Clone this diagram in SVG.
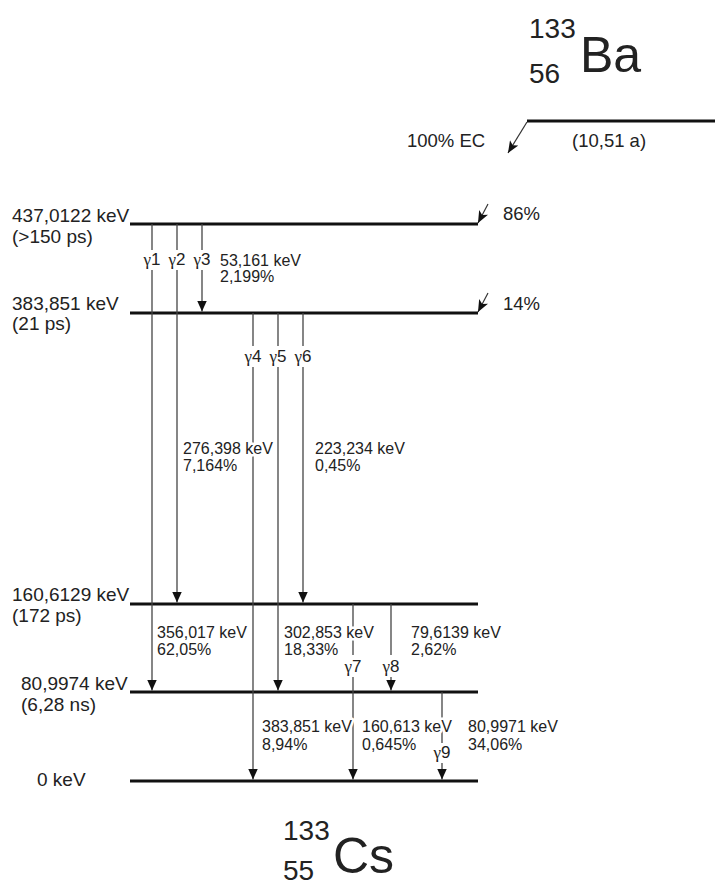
<svg xmlns="http://www.w3.org/2000/svg" width="715" height="887" viewBox="0 0 715 887">
<style>
.lvl{stroke:#111;stroke-width:3;fill:none}
.g{stroke:#444;stroke-width:1.3;fill:none}
.ga{stroke:#444;stroke-width:1.3;fill:none;marker-end:url(#ah)}
.fa{stroke:#333;stroke-width:1.2;fill:none;marker-end:url(#ah2)}
.t{font-family:"Liberation Sans",Arial,sans-serif;fill:#222}
.lt{font-size:19px}
.pt{font-size:18.5px}
.st{font-size:16px}
.gl{font-size:17px;text-anchor:middle}
.gr{font-family:"Liberation Serif","DejaVu Serif",serif}
.halo{stroke:#fff;stroke-width:5px;paint-order:stroke;stroke-linejoin:round}
.big{font-size:50px}
.iso{font-size:28px}
</style>
<defs>
<marker id="ah" viewBox="0 0 10 9" refX="10" refY="4.5" markerWidth="11" markerHeight="9.5" markerUnits="userSpaceOnUse" orient="auto">
<path d="M0,0 L10,4.5 L0,9 z" fill="#111"/>
</marker>
<marker id="ah2" viewBox="0 0 12 10" refX="12" refY="5" markerWidth="12" markerHeight="10" markerUnits="userSpaceOnUse" orient="auto">
<path d="M0,0 L12,5 L0,10 L3,5 z" fill="#111"/>
</marker>
</defs>

<g id="ba-title">
<text class="t iso" x="529" y="38">133</text>
<text class="t iso" x="529" y="83">56</text>
<text class="t big" x="580" y="72">Ba</text>
</g>
<g id="cs-title">
<text class="t iso" x="283" y="840">133</text>
<text class="t iso" x="283" y="880">55</text>
<text class="t big" x="333" y="873">Cs</text>
</g>

<g id="level-ba">
<line class="lvl" x1="527" y1="121" x2="715" y2="121"/>
<text class="t pt" x="572" y="147">(10,51 a)</text>
<text class="t pt" x="407" y="147">100% EC</text>
</g>
<g id="level-437">
<line class="lvl" x1="130" y1="224" x2="478" y2="224"/>
<text class="t lt" x="12" y="222">437,0122 keV</text>
<text class="t lt" x="12" y="243">(&gt;150 ps)</text>
<text class="t pt" x="503" y="220">86%</text>
</g>
<g id="level-383">
<line class="lvl" x1="130" y1="313" x2="478" y2="313"/>
<text class="t lt" x="12" y="310">383,851 keV</text>
<text class="t lt" x="12" y="330">(21 ps)</text>
<text class="t pt" x="503" y="310">14%</text>
</g>
<g id="level-160">
<line class="lvl" x1="130" y1="604" x2="478" y2="604"/>
<text class="t lt" x="12" y="601">160,6129 keV</text>
<text class="t lt" x="12" y="622">(172 ps)</text>
</g>
<g id="level-81">
<line class="lvl" x1="130" y1="692" x2="478" y2="692"/>
<text class="t lt" x="21" y="690">80,9974 keV</text>
<text class="t lt" x="21" y="711">(6,28 ns)</text>
</g>
<g id="level-0">
<line class="lvl" x1="130" y1="781" x2="478" y2="781"/>
<text class="t lt" x="37" y="786">0 keV</text>
</g>

<g id="connectors">
<line class="fa" x1="527" y1="122" x2="508" y2="153"/>
<line class="fa" x1="488" y1="204" x2="478" y2="223"/>
<line class="fa" x1="488" y1="293" x2="478" y2="312"/>

<line class="g" x1="152" y1="224" x2="152" y2="250"/>
<line class="ga" x1="152" y1="270" x2="152" y2="690.5"/>
<line class="g" x1="177" y1="224" x2="177" y2="250"/>
<line class="ga" x1="177" y1="270" x2="177" y2="602.5"/>
<line class="g" x1="202" y1="224" x2="202" y2="250"/>
<line class="ga" x1="202" y1="270" x2="202" y2="311.5"/>

<line class="g" x1="253" y1="313" x2="253" y2="346"/>
<line class="ga" x1="253" y1="367" x2="253" y2="779.5"/>
<line class="g" x1="278" y1="313" x2="278" y2="346"/>
<line class="ga" x1="278" y1="367" x2="278" y2="690.5"/>
<line class="g" x1="303" y1="313" x2="303" y2="346"/>
<line class="ga" x1="303" y1="367" x2="303" y2="602.5"/>

<line class="g" x1="353" y1="604" x2="353" y2="655"/>
<line class="ga" x1="353" y1="677" x2="353" y2="779.5"/>
<line class="g" x1="391" y1="604" x2="391" y2="655"/>
<line class="ga" x1="391" y1="677" x2="391" y2="690.5"/>
<line class="g" x1="442" y1="692" x2="442" y2="743"/>
<line class="ga" x1="442" y1="763" x2="442" y2="779.5"/>
</g>

<g id="gamma-labels">
<text class="t gl" x="152" y="265"><tspan class="gr">γ</tspan>1</text>
<text class="t gl" x="177" y="265"><tspan class="gr">γ</tspan>2</text>
<text class="t gl" x="202" y="265"><tspan class="gr">γ</tspan>3</text>
<text class="t gl" x="253" y="362"><tspan class="gr">γ</tspan>4</text>
<text class="t gl" x="278" y="362"><tspan class="gr">γ</tspan>5</text>
<text class="t gl" x="303" y="362"><tspan class="gr">γ</tspan>6</text>
<text class="t gl" x="353" y="672"><tspan class="gr">γ</tspan>7</text>
<text class="t gl" x="391" y="672"><tspan class="gr">γ</tspan>8</text>
<text class="t gl" x="442" y="758"><tspan class="gr">γ</tspan>9</text>
</g>

<g id="transition-labels">
<text class="t st halo" x="220" y="266">53,161 keV</text>
<text class="t st halo" x="220" y="282">2,199%</text>
<text class="t st halo" x="183" y="454">276,398 keV</text>
<text class="t st halo" x="183" y="471">7,164%</text>
<text class="t st halo" x="315" y="454">223,234 keV</text>
<text class="t st halo" x="315" y="471">0,45%</text>
<text class="t st halo" x="157" y="638">356,017 keV</text>
<text class="t st halo" x="157" y="655">62,05%</text>
<text class="t st halo" x="284" y="638">302,853 keV</text>
<text class="t st halo" x="284" y="655">18,33%</text>
<text class="t st halo" x="411" y="638">79,6139 keV</text>
<text class="t st halo" x="411" y="655">2,62%</text>
<text class="t st halo" x="262" y="732">383,851 keV</text>
<text class="t st halo" x="262" y="750">8,94%</text>
<text class="t st halo" x="362" y="732">160,613 keV</text>
<text class="t st halo" x="362" y="750">0,645%</text>
<text class="t st halo" x="468" y="732">80,9971 keV</text>
<text class="t st halo" x="468" y="750">34,06%</text>
</g>
</svg>
